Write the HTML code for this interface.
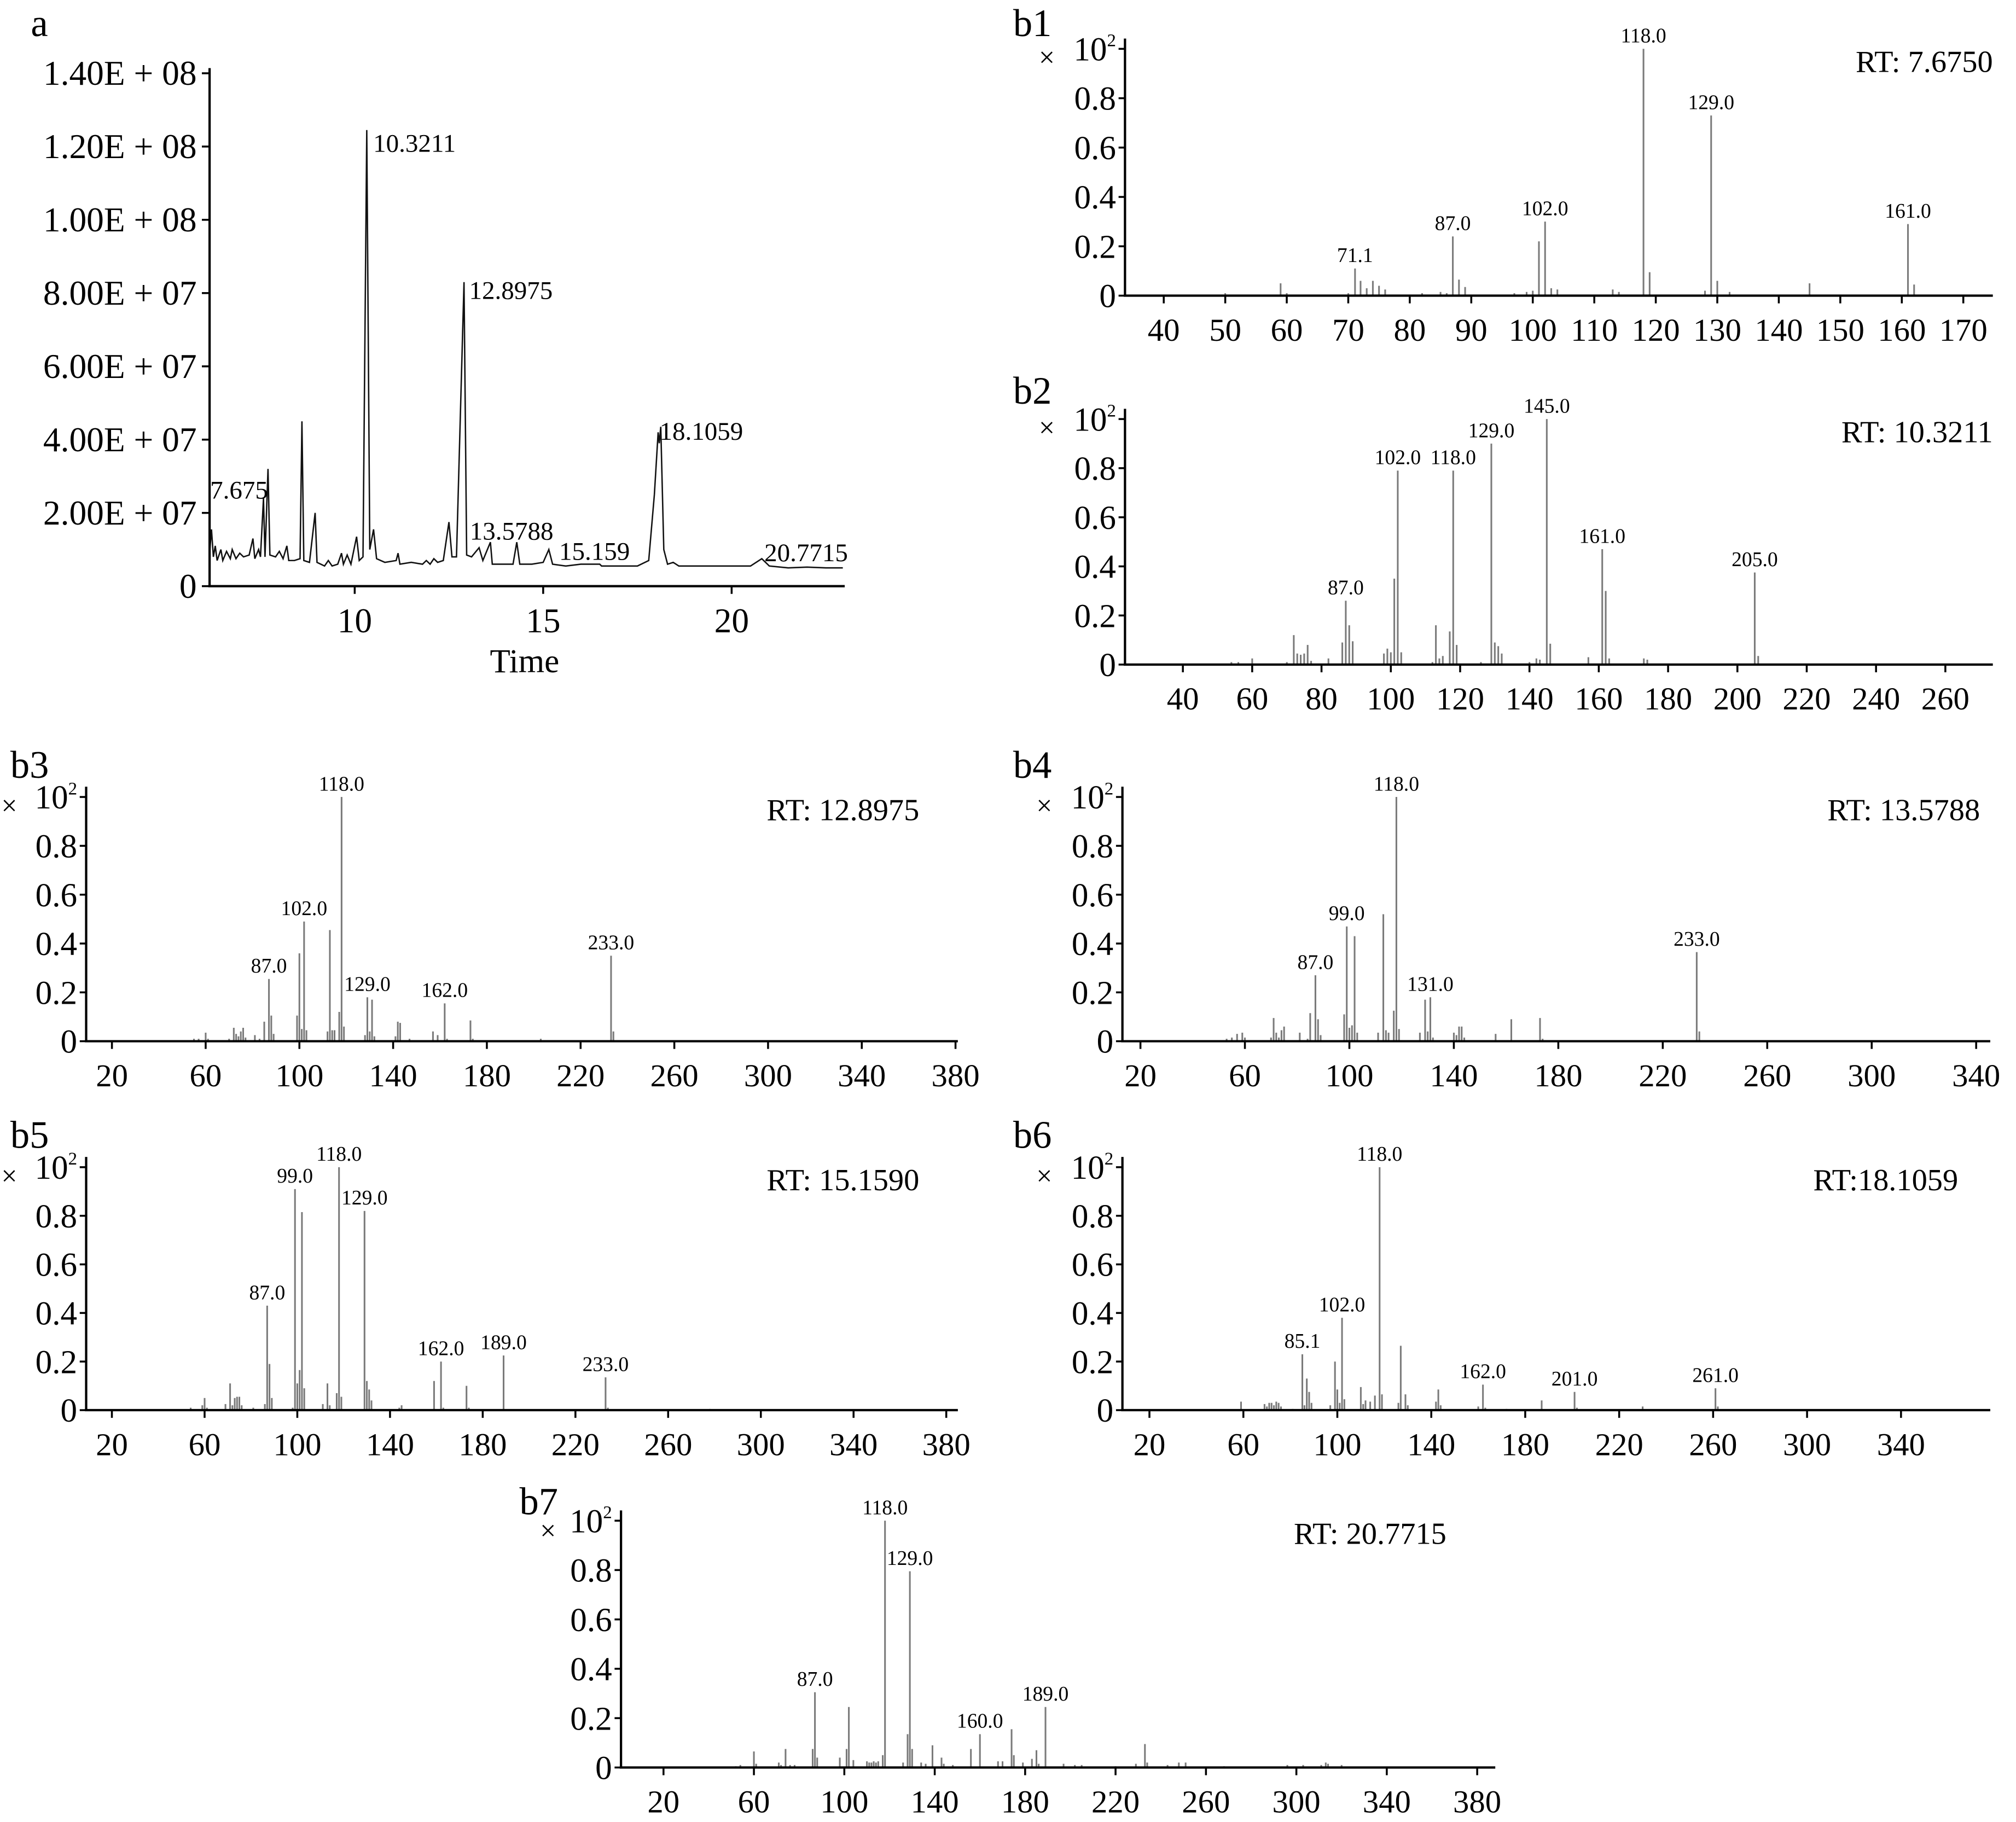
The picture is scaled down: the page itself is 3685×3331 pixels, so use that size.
<!DOCTYPE html>
<html><head><meta charset="utf-8"><style>
html,body{margin:0;padding:0;background:#fff;}
svg{display:block;font-family:"Liberation Serif",serif;}
</style></head><body>
<svg id="fig" xmlns="http://www.w3.org/2000/svg" width="3685" height="3331" viewBox="0 0 1568 1417.4" font-family="Liberation Serif, serif">
<rect width="1568" height="1417.4" fill="#fff"/>
</svg>
<script>
// ---- Panel a: total ion chromatogram (intensity in 1e7) ----
const ticTimes = [6.15,6.2,6.25,6.3,6.35,6.45,6.5,6.6,6.7,6.75,6.85,6.95,7.05,7.2,7.3,7.35,7.45,7.5,7.58,7.62,7.7,7.75,7.9,8.0,8.1,8.2,8.25,8.4,8.55,8.6,8.65,8.8,8.95,9.0,9.1,9.2,9.3,9.4,9.55,9.65,9.7,9.8,9.9,10.05,10.12,10.22,10.32,10.4,10.5,10.58,10.8,11.1,11.15,11.2,11.5,11.8,11.9,12.0,12.1,12.2,12.35,12.5,12.58,12.7,12.9,12.97,13.1,13.3,13.4,13.6,13.65,13.9,14.2,14.3,14.38,14.7,15.0,15.15,15.25,15.6,16.0,16.05,16.5,16.55,17.0,17.5,17.8,17.95,18.05,18.08,18.12,18.2,18.3,18.45,18.6,19.0,19.5,20.0,20.5,20.8,21.0,21.5,22.0,22.5,22.95];
const ticValues = [0.9,1.55,0.8,1.1,0.7,1.0,0.7,0.95,0.75,1.0,0.75,0.9,0.8,0.85,1.3,0.75,1.0,0.8,2.4,0.8,3.2,0.85,0.8,0.95,0.75,1.1,0.7,0.7,0.75,4.5,0.7,0.65,2.0,0.65,0.6,0.55,0.7,0.55,0.6,0.9,0.6,0.85,0.6,1.35,0.7,0.8,12.45,1.0,1.55,0.75,0.65,0.7,0.9,0.6,0.65,0.6,0.7,0.6,0.75,0.65,0.7,1.75,0.8,0.8,8.3,0.85,0.8,1.05,0.7,1.2,0.6,0.6,0.6,1.2,0.6,0.6,0.65,1.0,0.6,0.55,0.6,0.6,0.6,0.55,0.55,0.55,0.7,2.5,4.2,3.9,4.35,1.0,0.6,0.65,0.55,0.55,0.55,0.55,0.55,0.75,0.55,0.5,0.52,0.5,0.5];
const ticYTicks = [0,2,4,6,8,10,12,14];
const ticYLabels = ["0","2.00E + 07","4.00E + 07","6.00E + 07","8.00E + 07","1.00E + 08","1.20E + 08","1.40E + 08"];
const ticXTicks = [10,15,20];
const ticPeakTimes = [7.7,10.32,12.9,13.6,15.15,18.12,20.8];
const ticPeakLabels = ["7.675","10.3211","12.8975","13.5788","15.159","18.1059","20.7715"];

// ---- Spectra ----
const b1Mz=[50,59,60,70,71.1,72,73,74,75,76,82,85,86,87,88,89,97,99,100,101,102,103,104,113,114,118,119,128,129,130,132,145,161,162];
const b1Int=[0.01,0.05,0.01,0.01,0.11,0.06,0.03,0.06,0.04,0.025,0.01,0.015,0.01,0.24,0.065,0.035,0.01,0.015,0.02,0.22,0.3,0.03,0.025,0.025,0.015,1.0,0.095,0.02,0.73,0.06,0.015,0.05,0.29,0.045];
const b1Labels=[71.1,87,102,118,129,161];
const b2Mz=[54,56,60,70,72,73,74,75,76,77,82,86,87,88,89,98,99,100,101,102,103,112,113,114,115,117,118,119,126,129,130,131,132,140,142,143,145,146,157,161,162,163,173,174,205,206];
const b2Int=[0.01,0.01,0.025,0.01,0.12,0.045,0.04,0.045,0.08,0.015,0.025,0.09,0.26,0.16,0.095,0.045,0.065,0.05,0.35,0.79,0.05,0.01,0.16,0.025,0.035,0.135,0.79,0.08,0.01,0.9,0.09,0.075,0.045,0.01,0.025,0.02,1.0,0.085,0.03,0.47,0.3,0.025,0.025,0.02,0.375,0.035];
const b2Labels=[87,102,118,129,145,161,205];
const b3Mz=[55,57,60,61,70,72,73,74,75,76,77,81,83,85,87,88,89,99,100,101,102,103,112,113,114,115,117,118,119,128,129,130,131,132,141,142,143,147,157,159,162,163,173,174,203,233,234];
const b3Int=[0.01,0.01,0.035,0.01,0.01,0.055,0.03,0.02,0.04,0.055,0.015,0.025,0.01,0.08,0.255,0.105,0.03,0.105,0.36,0.05,0.49,0.045,0.04,0.455,0.045,0.045,0.12,1.0,0.06,0.025,0.18,0.04,0.17,0.02,0.02,0.08,0.075,0.01,0.04,0.025,0.155,0.01,0.085,0.01,0.01,0.35,0.04];
const b3Labels=[87,102,118,129,162,233];
const b4Mz=[53,55,57,59,60,70,71,72,73,74,75,81,84,85,87,88,89,98,99,100,101,102,103,111,113,114,115,117,118,119,127,129,130,131,132,140,141,142,143,144,156,162,173,174,233,234];
const b4Int=[0.01,0.015,0.03,0.035,0.015,0.015,0.095,0.035,0.015,0.045,0.06,0.035,0.01,0.115,0.27,0.09,0.025,0.11,0.47,0.055,0.065,0.43,0.035,0.035,0.52,0.045,0.035,0.125,1.0,0.05,0.035,0.17,0.04,0.18,0.015,0.035,0.025,0.06,0.06,0.015,0.03,0.09,0.095,0.01,0.365,0.04];
const b4Labels=[87,99,118,131,233];
const b5Mz=[54,59,60,61,69,71,72,73,74,75,76,81,86,87,88,89,98,99,100,101,102,103,111,113,114,117,118,119,129,130,131,132,144,145,159,162,163,173,174,189,233,234,278];
const b5Int=[0.01,0.02,0.05,0.01,0.025,0.11,0.02,0.05,0.055,0.055,0.02,0.01,0.025,0.43,0.19,0.05,0.01,0.91,0.11,0.165,0.815,0.09,0.025,0.11,0.02,0.07,1.0,0.055,0.82,0.12,0.085,0.04,0.01,0.02,0.12,0.2,0.01,0.1,0.01,0.225,0.135,0.01,0.005];
const b5Labels=[87,99,118,129,162,189,233];
const b6Mz=[59,69,70,71,72,73,74,75,76,81,85.1,86,87,88,89,97,99,100,101,102,103,110,111,112,114,116,118,119,126,127,129,130,142,143,144,160,162,163,172,187,201,202,230,261,262];
const b6Int=[0.035,0.025,0.015,0.03,0.03,0.02,0.035,0.03,0.015,0.005,0.23,0.02,0.13,0.075,0.03,0.02,0.2,0.085,0.03,0.38,0.045,0.095,0.025,0.04,0.035,0.06,1.0,0.065,0.03,0.265,0.065,0.02,0.035,0.085,0.02,0.015,0.105,0.01,0.005,0.04,0.075,0.01,0.015,0.09,0.015];
const b6Labels=[85.1,102,118,162,201,261];
const b7Mz=[52,54,60,61,71,72,74,76,78,86,87,88,98,101,102,104,110,111,112,113,114,115,117,118,126,128,129,130,134,136,139,143,144,148,156,160,168,170,174,175,179,183,185,186,189,197,202,205,220,229,233,234,243,248,251,268,296,303,311,313,314,320];
const b7Int=[0.005,0.01,0.065,0.015,0.02,0.01,0.075,0.01,0.01,0.075,0.305,0.04,0.04,0.075,0.245,0.03,0.025,0.02,0.02,0.025,0.02,0.025,0.05,1.0,0.02,0.135,0.795,0.075,0.02,0.015,0.09,0.04,0.015,0.01,0.075,0.135,0.025,0.025,0.155,0.05,0.02,0.035,0.07,0.015,0.245,0.015,0.01,0.01,0.005,0.015,0.095,0.02,0.01,0.02,0.02,0.005,0.01,0.01,0.01,0.02,0.015,0.01];
const b7Labels=[87,118,129,160,189];
const yFracTicks=[0,0.2,0.4,0.6,0.8];

const NS="http://www.w3.org/2000/svg";
const svg=document.getElementById('fig');
function mk(tag,attrs,parent){const e=document.createElementNS(NS,tag);for(const k in attrs)e.setAttribute(k,attrs[k]);(parent||svg).appendChild(e);return e;}

// Panel a
(function(){
  const g=mk('g',{});
  
  
  const x0=163,x1=657,yB=456,yT=57,t0=6.15,t1=23.0,vMax=14;
  const sx=t=>x0+(t-t0)/(t1-t0)*(x1-x0);
  const sy=v=>yB-v/vMax*(yB-yT);
  const lbl=mk('text',{x:24,y:28,'font-size':30},g);lbl.textContent='a';
  
  
  let d='';ticTimes.forEach((t,i)=>{d+=(i?'L':'M')+sx(t).toFixed(2)+','+sy(ticValues[i]).toFixed(2);});
  const p=mk('path',{d:d,fill:'none',stroke:'#111','stroke-width':1.1},g);
  
  
  const ya=mk('line',{x1:x0,y1:yT-4,x2:x0,y2:yB,stroke:'#000','stroke-width':1.8},g);
  
  
  const xa=mk('line',{x1:x0-1,y1:yB,x2:x1,y2:yB,stroke:'#000','stroke-width':1.8},g);
  
  
  ticYTicks.forEach((v,i)=>{
    mk('line',{x1:x0-6,y1:sy(v),x2:x0,y2:sy(v),stroke:'#000','stroke-width':1.5},g);
    const t=mk('text',{x:x0-10,y:sy(v)+9,'font-size':27,'text-anchor':'end'},g);t.textContent=ticYLabels[i];
    
    
  });
  ticXTicks.forEach(v=>{
    mk('line',{x1:sx(v),y1:yB,x2:sx(v),y2:yB+6,stroke:'#000','stroke-width':1.5},g);
    const t=mk('text',{x:sx(v),y:yB+36,'font-size':27,'text-anchor':'middle'},g);t.textContent=String(v);
    
    
  });
  const xt=mk('text',{x:408,y:523,'font-size':26,'text-anchor':'middle'},g);xt.textContent='Time';
  
  
  const offs=[[-45,23],[5,17],[4,13],[-16,-2],[8,8],[-1,10],[2,2]];
  ticPeakTimes.forEach((t,i)=>{
    const j=ticTimes.indexOf(t);const v=j>=0?ticValues[j]:0;
    const tx=mk('text',{x:sx(t)+offs[i][0],y:sy(v)+offs[i][1],'font-size':20},g);tx.textContent=ticPeakLabels[i];
    
    
  });
})();

function spectrum(name,mz,inten,labels,cfg){
  const g=mk('g',{});
  
  
  const {ax,x1,yT,yB,d0,d1,ticks,rtText,rtX,lx,ly,xmulX,xmulY}=cfg;
  const sx=m=>ax+(m-d0)/(d1-d0)*(x1-ax);
  const sy=v=>yB-v*(yB-yT);
  const pl=mk('text',{x:lx,y:ly,'font-size':30},g);pl.textContent=name;
  
  
  mz.forEach((m,i)=>{
    const b=mk('line',{x1:sx(m),x2:sx(m),y1:yB,y2:sy(inten[i]),stroke:'#7a7a7a','stroke-width':1.3},g);
    
    
  });
  labels.forEach(m=>{
    const i=mz.indexOf(m);const v=i>=0?inten[i]:0;
    const t=mk('text',{x:sx(m),y:sy(v)-5,'font-size':16,'text-anchor':'middle'},g);t.textContent=m.toFixed(1);
    
    
  });
  const ya=mk('line',{x1:ax,y1:yT-8,x2:ax,y2:yB,stroke:'#000','stroke-width':1.8},g);
  
  
  const xa=mk('line',{x1:ax-1,y1:yB,x2:x1,y2:yB,stroke:'#000','stroke-width':1.8},g);
  
  
  yFracTicks.concat([1]).forEach(v=>mk('line',{x1:ax-5,y1:sy(v),x2:ax,y2:sy(v),stroke:'#000','stroke-width':1.5},g));
  yFracTicks.forEach(v=>{
    const t=mk('text',{x:ax-7,y:sy(v)+9,'font-size':26,'text-anchor':'end'},g);t.textContent=v===0?'0':v.toFixed(1);
    
    
  });
  const xm=mk('text',{x:xmulX,y:xmulY,'font-size':22},g);xm.textContent='×';
  
  
  const tn=mk('text',{x:ax-7,y:sy(1)+9,'font-size':26,'text-anchor':'end'},g);
  tn.innerHTML='10<tspan font-size="14" dy="-11">2</tspan>';
  
  
  ticks.forEach(v=>{
    mk('line',{x1:sx(v),y1:yB,x2:sx(v),y2:yB+6,stroke:'#000','stroke-width':1.5},g);
    const t=mk('text',{x:sx(v),y:yB+35,'font-size':25,'text-anchor':'middle'},g);t.textContent=String(v);
    
    
  });
  const rt=mk('text',{x:rtX,y:yT+18,'font-size':24,'text-anchor':'end'},g);rt.textContent=rtText;
  
  
}
function range(a,b,s){const r=[];for(let v=a;v<=b;v+=s)r.push(v);return r;}
spectrum('b1',b1Mz,b1Int,b1Labels,{ax:875,x1:1550,yT:38,yB:230,d0:33.7,d1:174.8,ticks:range(40,170,10),rtText:'RT: 7.6750',rtX:1550,lx:788,ly:28,xmulX:808,xmulY:52});
spectrum('b2',b2Mz,b2Int,b2Labels,{ax:875,x1:1550,yT:326,yB:517,d0:23.3,d1:273.7,ticks:range(40,260,20),rtText:'RT: 10.3211',rtX:1550,lx:788,ly:314,xmulX:808,xmulY:340});
spectrum('b3',b3Mz,b3Int,b3Labels,{ax:67,x1:745,yT:620,yB:810,d0:9,d1:381,ticks:range(20,380,40),rtText:'RT: 12.8975',rtX:715,lx:8,ly:605,xmulX:1,xmulY:634});
spectrum('b4',b4Mz,b4Int,b4Labels,{ax:873,x1:1548,yT:620,yB:810,d0:13.1,d1:345.4,ticks:range(20,340,40),rtText:'RT: 13.5788',rtX:1540,lx:788,ly:605,xmulX:806,xmulY:634});
spectrum('b5',b5Mz,b5Int,b5Labels,{ax:67,x1:745,yT:908,yB:1097,d0:8.9,d1:385,ticks:range(20,380,40),rtText:'RT: 15.1590',rtX:715,lx:8,ly:893,xmulX:1,xmulY:922});
spectrum('b6',b6Mz,b6Int,b6Labels,{ax:873,x1:1548,yT:908,yB:1097,d0:8.5,d1:378,ticks:range(20,340,40),rtText:'RT:18.1059',rtX:1523,lx:788,ly:893,xmulX:806,xmulY:922});
spectrum('b7',b7Mz,b7Int,b7Labels,{ax:483,x1:1163,yT:1183,yB:1375,d0:1.2,d1:388,ticks:range(20,380,40),rtText:'RT: 20.7715',rtX:1125,lx:404,ly:1178,xmulX:420,xmulY:1198});
</script>
</body></html>
